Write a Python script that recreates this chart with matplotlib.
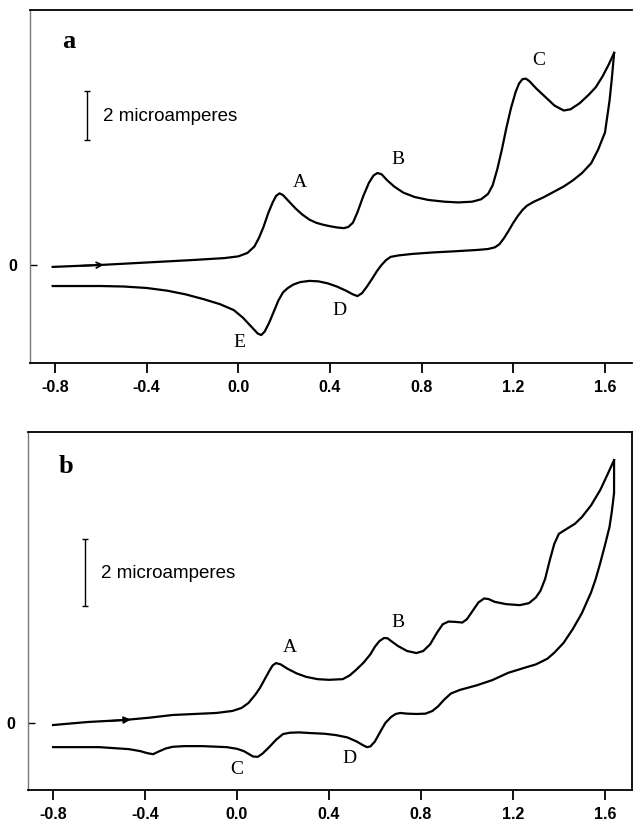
import numpy as np
import matplotlib
matplotlib.use("Agg")
import matplotlib.pyplot as plt

# Panel a: forward scan (oxidation), potential in V, current in microamperes
a_fwd_v = [-0.81, -0.60, -0.40, -0.20, -0.06, 0.0, 0.04, 0.07, 0.09, 0.11, 0.13, 0.15, 0.165, 0.18, 0.195, 0.22,
           0.25, 0.28, 0.31, 0.34, 0.37, 0.40, 0.43, 0.46, 0.48, 0.50, 0.52, 0.545, 0.57, 0.59, 0.607, 0.625,
           0.65, 0.68, 0.72, 0.77, 0.83, 0.90, 0.96, 1.02, 1.06, 1.09, 1.11, 1.13, 1.15, 1.17, 1.19, 1.21,
           1.225, 1.24, 1.255, 1.27, 1.30, 1.34, 1.38, 1.42, 1.45, 1.49, 1.53, 1.56, 1.59, 1.615, 1.64]
a_fwd_i = [-0.08, 0.0, 0.1, 0.2, 0.28, 0.35, 0.49, 0.75, 1.1, 1.55, 2.1, 2.55, 2.82, 2.92, 2.85, 2.6,
           2.3, 2.05, 1.85, 1.72, 1.64, 1.58, 1.53, 1.5, 1.55, 1.72, 2.15, 2.8, 3.35, 3.65, 3.75, 3.7,
           3.45, 3.2, 2.95, 2.77, 2.65, 2.58, 2.55, 2.58, 2.68, 2.9, 3.25, 3.9, 4.7, 5.6, 6.4, 7.05,
           7.4, 7.58, 7.6, 7.5, 7.2, 6.85, 6.5, 6.3, 6.35, 6.6, 6.95, 7.25, 7.7, 8.15, 8.65]
# Panel a: reverse scan (reduction)
a_rev_v = [1.64, 1.63, 1.62, 1.60, 1.57, 1.54, 1.50, 1.46, 1.42, 1.37, 1.33, 1.29, 1.26, 1.24, 1.22, 1.20,
           1.18, 1.16, 1.14, 1.12, 1.09, 1.04, 0.95, 0.85, 0.76, 0.70, 0.665, 0.645, 0.625, 0.605, 0.585, 0.56,
           0.54, 0.52, 0.50, 0.47, 0.43, 0.39, 0.35, 0.31, 0.27, 0.24, 0.215, 0.195, 0.175, 0.155, 0.135, 0.115,
           0.10, 0.085, 0.07, 0.05, 0.02, -0.02, -0.08, -0.15, -0.23, -0.31, -0.40, -0.50, -0.60, -0.81]
a_rev_i = [8.65, 7.6, 6.7, 5.4, 4.7, 4.15, 3.75, 3.45, 3.2, 2.95, 2.75, 2.58, 2.42, 2.24, 2.0, 1.72,
           1.4, 1.1, 0.85, 0.72, 0.65, 0.61, 0.56, 0.51, 0.45, 0.39, 0.33, 0.2, 0.0, -0.25, -0.55, -0.9,
           -1.15, -1.27, -1.2, -1.05, -0.88, -0.75, -0.67, -0.65, -0.7, -0.8, -0.95, -1.12, -1.45, -1.9, -2.35, -2.72,
           -2.86, -2.8, -2.65, -2.45, -2.15, -1.84, -1.6, -1.4, -1.2, -1.05, -0.94, -0.88, -0.86, -0.86]

# Panel b: forward scan
b_fwd_v = [-0.80, -0.65, -0.49, -0.38, -0.28, -0.09, -0.02, 0.02, 0.05, 0.08, 0.10, 0.12, 0.14, 0.155, 0.17, 0.19,
           0.22, 0.26, 0.30, 0.35, 0.40, 0.46, 0.49, 0.52, 0.55, 0.58, 0.60, 0.62, 0.64, 0.655, 0.67, 0.70,
           0.74, 0.78, 0.81, 0.84, 0.87, 0.895, 0.92, 0.95, 0.98, 1.0, 1.025, 1.05, 1.075, 1.095, 1.12, 1.17,
           1.23, 1.27, 1.30, 1.32, 1.34, 1.36, 1.38, 1.40, 1.43, 1.47, 1.50, 1.54, 1.58, 1.61, 1.64]
b_fwd_i = [-0.06, 0.03, 0.09, 0.16, 0.24, 0.30, 0.36, 0.45, 0.6, 0.85, 1.05, 1.3, 1.55, 1.72, 1.79, 1.75,
           1.62, 1.48, 1.38, 1.31, 1.29, 1.31, 1.42, 1.6, 1.8, 2.05, 2.28, 2.45, 2.54, 2.53, 2.45, 2.3,
           2.15, 2.09, 2.15, 2.35, 2.7, 2.95, 3.03, 3.02, 3.0, 3.1, 3.35, 3.6, 3.72, 3.7, 3.62, 3.55,
           3.52, 3.58, 3.75, 3.95, 4.3, 4.85, 5.35, 5.65, 5.78, 5.95, 6.15, 6.5, 6.96, 7.4, 7.85]
# Panel b: reverse scan
b_rev_v = [1.64, 1.64, 1.63, 1.62, 1.60, 1.58, 1.56, 1.54, 1.50, 1.46, 1.42, 1.38, 1.35, 1.30, 1.26, 1.18,
           1.11, 1.04, 0.97, 0.93, 0.90, 0.875, 0.85, 0.82, 0.78, 0.74, 0.71, 0.69, 0.67, 0.645, 0.62, 0.60,
           0.58, 0.565, 0.55, 0.52, 0.48, 0.43, 0.38, 0.32, 0.27, 0.23, 0.20, 0.17, 0.14, 0.11, 0.09, 0.07,
           0.05, 0.03, 0.0, -0.045, -0.15, -0.23, -0.28, -0.31, -0.34, -0.365, -0.39, -0.42, -0.47, -0.60, -0.80]
b_rev_i = [7.85, 6.87, 6.3, 5.85, 5.3, 4.78, 4.3, 3.9, 3.28, 2.8, 2.39, 2.1, 1.92, 1.75, 1.67, 1.5,
           1.28, 1.12, 0.99, 0.88, 0.69, 0.5, 0.36, 0.28, 0.27, 0.28, 0.30, 0.27, 0.18, 0.0, -0.3, -0.55,
           -0.7, -0.72, -0.67, -0.55, -0.43, -0.36, -0.32, -0.30, -0.28, -0.29, -0.33, -0.5, -0.72, -0.92, -1.01, -1.0,
           -0.92, -0.84, -0.77, -0.72, -0.69, -0.69, -0.71, -0.76, -0.85, -0.93, -0.9, -0.84, -0.78, -0.72, -0.72]

xticks = [-0.8, -0.4, 0.0, 0.4, 0.8, 1.2, 1.6]
xtick_labels = ["-0.8", "-0.4", "0.0", "0.4", "0.8", "1.2", "1.6"]

# peak labels: (text, V, I)
a_peaks = [("A", 0.27, 3.35), ("B", 0.695, 4.3), ("C", 1.31, 8.35), ("D", 0.44, -1.85), ("E", 0.005, -3.15)]
b_peaks = [("A", 0.23, 2.25), ("B", 0.70, 3.0), ("C", 0.0, -1.4), ("D", 0.49, -1.05)]

fig = plt.figure(figsize=(6.33, 8.23), dpi=100)
serif = ["Liberation Serif", "DejaVu Serif"]
sans = ["Liberation Sans", "DejaVu Sans"]


def setup(ax, ylim, scale_y0, scale_y1, scale_ty):
    ax.set_xlim(-0.909, 1.718)
    ax.set_ylim(*ylim)
    ax.set_xticks(xticks)
    ax.set_xticklabels(xtick_labels, family=sans, fontsize=11.5, fontweight="bold")
    ax.set_yticks([0])
    ax.set_yticklabels(["0"], family=sans, fontsize=11.5, fontweight="bold")
    ax.tick_params(axis="x", direction="out", length=7, width=1.3, pad=5)
    ax.tick_params(axis="y", direction="in", length=5, width=1.0, pad=9)
    for s in ax.spines.values():
        s.set_linewidth(1.3)
    ax.spines["left"].set_color("#777777")
    ax.spines["left"].set_linewidth(1.0)
    # 2 microampere scale bar
    ax.errorbar([-0.66], [(scale_y0 + scale_y1) / 2], yerr=[(scale_y1 - scale_y0) / 2],
                color="black", lw=1.0, capsize=2.5, capthick=1.0)
    ax.text(-0.59, scale_ty, "2 microamperes", family=sans, fontsize=13.5, va="center", ha="left")


# ---- panel a ----
ax1 = fig.add_axes([30 / 633, 1 - 363 / 823, 602 / 633, 353 / 823])
setup(ax1, (-4.0, 10.4), 5.1, 7.1, 6.05)
ax1.spines["right"].set_visible(False)
ax1.plot(a_fwd_v, a_fwd_i, color="black", lw=1.6, solid_joinstyle="round")
ax1.plot(a_rev_v, a_rev_i, color="black", lw=1.6, solid_joinstyle="round")
ax1.annotate("", xy=(-0.575, 0.01), xytext=(-0.70, -0.04),
             arrowprops=dict(arrowstyle="->", color="black", lw=1.3))
ax1.text(-0.74, 9.1, "a", family=serif, fontsize=19, fontweight="bold", va="center", ha="center")
for t, v, i in a_peaks:
    ax1.text(v, i, t, family=serif, fontsize=14, ha="center", va="center")

# ---- panel b ----
ax2 = fig.add_axes([28 / 633, 1 - 790 / 823, 604 / 633, 358 / 823])
setup(ax2, (-2.0, 8.69), 3.5, 5.5, 4.45)
ax2.plot(b_fwd_v, b_fwd_i, color="black", lw=1.6, solid_joinstyle="round")
ax2.plot(b_rev_v, b_rev_i, color="black", lw=1.6, solid_joinstyle="round")
ax2.annotate("", xy=(-0.45, 0.11), xytext=(-0.58, 0.05),
             arrowprops=dict(arrowstyle="-|>", color="black", lw=1.3, mutation_scale=10))
ax2.text(-0.745, 7.65, "b", family=serif, fontsize=19, fontweight="bold", va="center", ha="center")
for t, v, i in b_peaks:
    ax2.text(v, i, t, family=serif, fontsize=14, ha="center", va="center")

fig.savefig("out.png", dpi=100)
